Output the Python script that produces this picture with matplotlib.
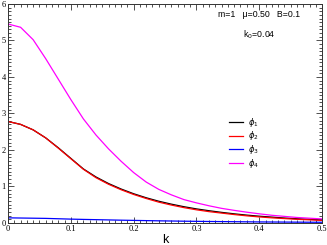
import matplotlib
matplotlib.use("Agg")
import matplotlib.pyplot as plt
from matplotlib.ticker import MultipleLocator

k = [0.00, 0.02, 0.04, 0.06, 0.08, 0.10, 0.12, 0.14, 0.16, 0.18, 0.20, 0.22, 0.24,
     0.26, 0.28, 0.30, 0.32, 0.34, 0.36, 0.38, 0.40, 0.42, 0.44, 0.46, 0.48, 0.50]
phi2 = [2.78, 2.70, 2.55, 2.33, 2.05, 1.76, 1.47, 1.24, 1.06, 0.91, 0.78, 0.67, 0.57,
        0.49, 0.42, 0.36, 0.31, 0.27, 0.23, 0.195, 0.165, 0.14, 0.12, 0.10, 0.085, 0.07]
phi1 = [2.78, 2.70, 2.55, 2.33, 2.06, 1.77, 1.48, 1.26, 1.08, 0.93, 0.80, 0.69, 0.595,
        0.515, 0.445, 0.385, 0.335, 0.29, 0.25, 0.215, 0.185, 0.16, 0.135, 0.115, 0.10, 0.085]
phi3 = [0.14, 0.135, 0.13, 0.125, 0.115, 0.105, 0.097, 0.09, 0.083, 0.076, 0.07, 0.064,
        0.058, 0.053, 0.048, 0.044, 0.04, 0.037, 0.034, 0.031, 0.028, 0.026, 0.024,
        0.022, 0.02, 0.019]
phi4 = [5.45, 5.36, 5.02, 4.50, 3.94, 3.38, 2.85, 2.41, 2.03, 1.69, 1.38, 1.12, 0.92,
        0.77, 0.64, 0.55, 0.47, 0.40, 0.345, 0.295, 0.25, 0.21, 0.18, 0.15, 0.13, 0.11]

series = [(phi1, "black", r"$\phi_1$"), (phi2, "#ff0000", r"$\phi_2$"),
          (phi3, "#0000ff", r"$\phi_3$"), (phi4, "#ff00ff", r"$\phi_4$")]

fig = plt.figure(figsize=(3.27, 2.45), dpi=100)
ax = fig.add_axes([0.0245, 0.09, 0.9605, 0.894])

for ys, c, lab in series:
    ax.plot(k, ys, color=c, lw=0.9, label=lab)

ax.set_xlim(0, 0.5)
ax.set_ylim(0, 6)
ax.xaxis.set_major_locator(MultipleLocator(0.1))
ax.xaxis.set_minor_locator(MultipleLocator(0.01))
ax.yaxis.set_major_locator(MultipleLocator(1))
ax.yaxis.set_minor_locator(MultipleLocator(0.1))
ax.tick_params(which="both", direction="in", top=True, right=True, width=0.6,
               colors="#333333", labelcolor="black")
ax.tick_params(which="major", length=4, labelsize=6, pad=1.5)
ax.tick_params(which="minor", length=2)
ax.set_xticks([0, 0.1, 0.2, 0.3, 0.4, 0.5])
ax.set_xticklabels(["0", "0.1", "0.2", "0.3", "0.4", "0.5"], fontfamily="Liberation Serif", fontsize=6)
ax.set_yticks([0, 1, 2, 3, 4, 5, 6])
ax.set_yticklabels(["0", "1", "2", "3", "4", "5", "6"], fontfamily="Liberation Serif", fontsize=6)
for s in ax.spines.values():
    s.set_linewidth(0.7)
    s.set_color("#333333")

ax.set_xlabel("k", fontfamily="Liberation Sans", fontsize=9, labelpad=1)

ax.text(0.80, 0.95, "m=1   \u03bc=0.50   B=0.1", transform=ax.transAxes,
        ha="center", va="center", fontsize=6.3, fontfamily="Liberation Sans")
ax.text(0.80, 0.858, r"k$_0$=0.04", transform=ax.transAxes,
        ha="center", va="center", fontsize=6.3, fontfamily="Liberation Sans")

leg = ax.legend(loc="upper left", bbox_to_anchor=(0.705, 0.49), frameon=False,
                fontsize=6, handlelength=1.6, handletextpad=0.6, labelspacing=0.1,
                borderpad=0, borderaxespad=0)
fig.savefig("out.png", dpi=100)
